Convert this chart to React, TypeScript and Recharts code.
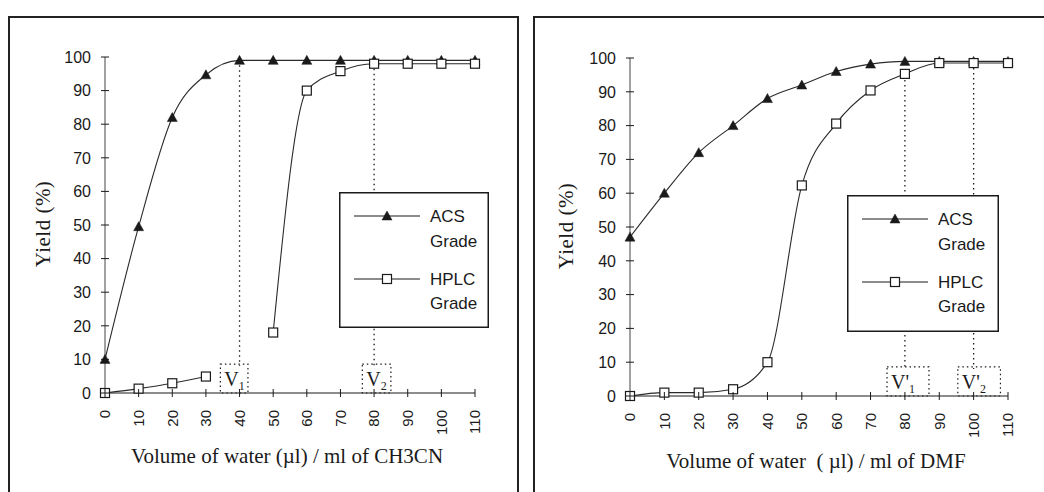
import React from 'react';
import { LineChart, Line, XAxis, YAxis, ReferenceLine, ReferenceArea, Label, Legend } from 'recharts';

const xValues = [0, 10, 20, 30, 40, 50, 60, 70, 80, 90, 100, 110];
const yTicks = [0, 10, 20, 30, 40, 50, 60, 70, 80, 90, 100];

const leftACS = [10, 49.5, 82, 94.7, 99, 99, 99, 99, 99, 99, 99, 99];
const leftHPLC: (number | null)[] = [0, 1.3, 2.9, 4.9, null, 18, 90, 95.8, 98, 98, 98, 98];

const rightACS = [47, 60, 72, 80, 88, 92, 96, 98.2, 99, 99, 99, 99];
const rightHPLC = [0, 1, 1, 2, 10, 62.3, 80.6, 90.4, 95.3, 98.5, 98.5, 98.5];

const seriesNames = ['ACS Grade', 'HPLC Grade'];
const leftTitle = 'Volume of water (\u00b5l) / ml of CH3CN';
const rightTitle = 'Volume of water \u00a0( \u00b5l) / ml of DMF';
const yTitle = 'Yield (%)';

const leftData = xValues.map((x, i) => ({ x, acs: leftACS[i], hplc: leftHPLC[i] }));
const rightData = xValues.map((x, i) => ({ x, acs: rightACS[i], hplc: rightHPLC[i] }));

const SANS = "'Liberation Sans', Arial, sans-serif";
const SERIF = "'Liberation Serif', 'Times New Roman', serif";
const INK = '#1a1a1a';

const TriangleDot = (props: any) => {
  const { cx, cy } = props;
  if (cx == null || cy == null) return null;
  return <path d={`M${cx},${cy - 5} L${cx + 5},${cy + 4} L${cx - 5},${cy + 4} Z`} fill={INK} stroke={INK} strokeWidth={0.5} />;
};

const SquareDot = (props: any) => {
  const { cx, cy } = props;
  if (cx == null || cy == null) return null;
  return <rect x={cx - 4.5} y={cy - 4.5} width={9} height={9} fill="#fff" stroke={INK} strokeWidth={1.2} />;
};

const YTick = (props: any) => {
  const { x, y, payload } = props;
  return (
    <g>
      <line x1={x - 4} x2={x + 4} y1={y} y2={y} stroke={INK} strokeWidth={1} />
      <text x={x - 14} y={y} dy="0.36em" textAnchor="end" fontSize={16} fontFamily={SANS} fill={INK}>
        {payload.value}
      </text>
    </g>
  );
};

const XTick = (props: any) => {
  const { x, y, payload } = props;
  return (
    <g>
      <line x1={x} x2={x} y1={y - 4} y2={y + 4} stroke={INK} strokeWidth={1} />
      <text
        transform={`translate(${x},${y + 17}) rotate(-90)`}
        dy="0.36em"
        textAnchor="end"
        fontSize={15}
        fontFamily={SANS}
        fill={INK}
      >
        {payload.value}
      </text>
    </g>
  );
};

const makeLegend = (w: number, h: number) => (props: any) => {
  const payload = props.payload || [];
  const rows = [
    { ly: 24, t1: 24, t2: 49 },
    { ly: 87, t1: 87, t2: 111 },
  ];
  return (
    <svg width={w} height={h} style={{ display: 'block' }}>
      <rect x={0.75} y={0.75} width={w - 1.5} height={h - 1.5} fill="#fff" stroke={INK} strokeWidth={1.5} />
      {payload.map((p: any, i: number) => {
        const r = rows[i];
        if (!r) return null;
        const words = String(p.value).split(' ');
        return (
          <g key={i}>
            <line x1={15} x2={81} y1={r.ly} y2={r.ly} stroke={INK} strokeWidth={1.2} />
            {i === 0 ? <TriangleDot cx={48} cy={r.ly} /> : <SquareDot cx={48} cy={r.ly} />}
            <text x={91} y={r.t1} dy="0.36em" fontSize={17} fontFamily={SANS} fill={INK}>{words[0]}</text>
            <text x={91} y={r.t2} dy="0.36em" fontSize={17} fontFamily={SANS} fill={INK}>{words[1]}</text>
          </g>
        );
      })}
    </svg>
  );
};

const vLabel = (main: string, sub: string) => (props: any) => {
  const vb = props.viewBox || {};
  return (
    <text x={vb.x + 4} y={vb.y + vb.height - 7} fontSize={20} fontFamily={SERIF} fill={INK}>
      {main}
      <tspan fontSize={12} dy={4}>{sub}</tspan>
    </text>
  );
};

const xTitle = (title: string, dy: number) => (props: any) => {
  const vb = props.viewBox || {};
  return (
    <text x={vb.x + vb.width / 2 - 3} y={vb.y + dy} textAnchor="middle" fontSize={21} fontFamily={SERIF} fill={INK}>
      {title}
    </text>
  );
};

const yTitleLabel = (cx: number) => (props: any) => {
  const vb = props.viewBox || {};
  const cy = vb.y + vb.height / 2 - 1;
  return (
    <text
      transform={`translate(${cx},${cy}) rotate(-90)`}
      textAnchor="middle"
      dy="0.36em"
      fontSize={21}
      letterSpacing={0.5}
      fontFamily={SERIF}
      fill={INK}
    >
      {yTitle}
    </text>
  );
};

type PanelProps = {
  data: any[];
  width: number;
  margin: any;
  title: string;
  titleDy: number;
  yTitleX: number;
  legendPos: { left: number; top: number; w: number; h: number };
  vLines: { x: number; y: number }[];
  vBoxes: { x1: number; x2: number; main: string; sub: string }[];
};

const Panel = (p: PanelProps) => (
  <LineChart width={p.width} height={492} data={p.data} margin={p.margin}>
    <XAxis
      dataKey="x"
      type="number"
      domain={[0, 110]}
      ticks={xValues}
      interval={0}
      height={60}
      tickSize={0}
      tickMargin={0}
      tickLine={false}
      tick={<XTick />}
      axisLine={{ stroke: INK, strokeWidth: 1 }}
    >
      <Label content={xTitle(p.title, p.titleDy)} />
    </XAxis>
    <YAxis
      type="number"
      domain={[0, 100]}
      ticks={yTicks}
      interval={0}
      width={60}
      tickSize={0}
      tickMargin={0}
      tickLine={false}
      tick={<YTick />}
      axisLine={{ stroke: '#444', strokeWidth: 1 }}
    >
      <Label content={yTitleLabel(p.yTitleX)} />
    </YAxis>
    {p.vLines.map((v, i) => (
      <ReferenceLine
        key={'vl' + i}
        segment={[{ x: v.x, y: v.y }, { x: v.x, y: 8 }]}
        stroke={INK}
        strokeWidth={1.3}
        strokeDasharray="1.5 3.5"
      />
    ))}
    <Line
      type="monotone"
      dataKey="acs"
      name={seriesNames[0]}
      stroke="#2a2a2a"
      strokeWidth={1.1}
      dot={<TriangleDot />}
      activeDot={false}
      isAnimationActive={false}
    />
    <Line
      type="monotone"
      dataKey="hplc"
      name={seriesNames[1]}
      stroke="#2a2a2a"
      strokeWidth={1.1}
      dot={<SquareDot />}
      activeDot={false}
      isAnimationActive={false}
    />
    {p.vBoxes.map((b, i) => (
      <ReferenceArea
        key={'vb' + i}
        x1={b.x1}
        x2={b.x2}
        y1={0}
        y2={8.6}
        fill="#fff"
        fillOpacity={1}
        stroke={INK}
        strokeWidth={1.2}
        strokeDasharray="1.5 3"
      >
        <Label content={vLabel(b.main, b.sub)} />
      </ReferenceArea>
    ))}
    <Legend
      layout="vertical"
      align="center"
      verticalAlign="middle"
      content={makeLegend(p.legendPos.w, p.legendPos.h)}
      wrapperStyle={{ position: 'absolute', left: p.legendPos.left, top: p.legendPos.top, width: p.legendPos.w, height: p.legendPos.h }}
    />
  </LineChart>
);

export default function App() {
  return (
    <div style={{ position: 'absolute', left: 0, top: 0, width: 1044, height: 492, overflow: 'hidden', background: '#fff' }}>
      <div style={{ position: 'absolute', left: 8, top: 16, width: 507, height: 500, border: '2px solid #222' }} />
      <div style={{ position: 'absolute', left: 533, top: 16, width: 530, height: 500, border: '2px solid #222' }} />
      <div style={{ position: 'absolute', left: 0, top: 0 }}>
        <Panel
          data={leftData}
          width={520}
          margin={{ top: 57, right: 45, bottom: 39, left: 45 }}
          title={leftTitle}
          titleDy={70}
          yTitleX={42}
          legendPos={{ left: 339, top: 192, w: 150, h: 136 }}
          vLines={[{ x: 40, y: 99 }, { x: 80, y: 98 }]}
          vBoxes={[
            { x1: 34.3, x2: 42.5, main: 'V', sub: '1' },
            { x1: 76.5, x2: 85, main: 'V', sub: '2' },
          ]}
        />
      </div>
      <div style={{ position: 'absolute', left: 520, top: 0 }}>
        <Panel
          data={rightData}
          width={524}
          margin={{ top: 58, right: 36, bottom: 36, left: 50 }}
          title={rightTitle}
          titleDy={72}
          yTitleX={45}
          legendPos={{ left: 327, top: 195, w: 152, h: 137 }}
          vLines={[{ x: 80, y: 95 }, { x: 100, y: 98.5 }]}
          vBoxes={[
            { x1: 74.8, x2: 87, main: "V'", sub: '1' },
            { x1: 95.4, x2: 107.8, main: "V'", sub: '2' },
          ]}
        />
      </div>
    </div>
  );
}
